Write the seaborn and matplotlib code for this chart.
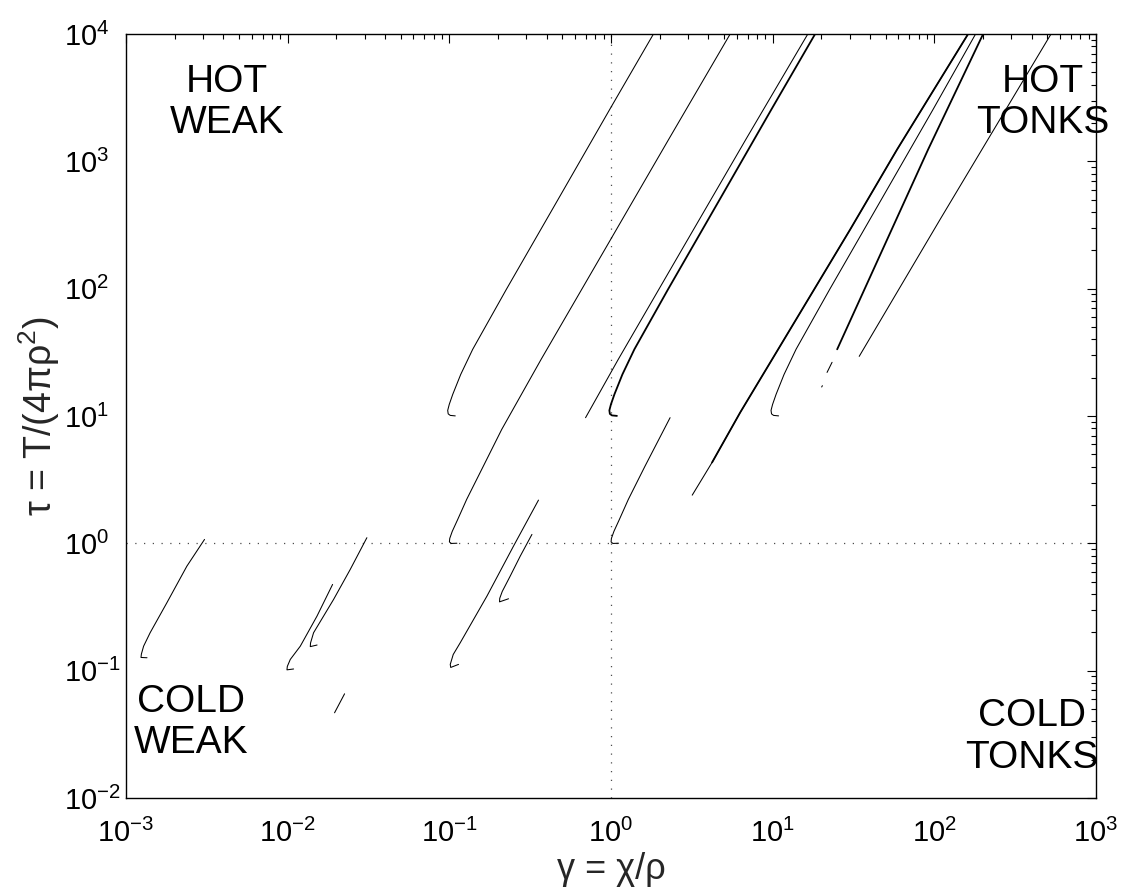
import numpy as np
import pandas as pd
import matplotlib
matplotlib.use("Agg")
import matplotlib.pyplot as plt
from matplotlib.ticker import LogLocator, NullFormatter
import seaborn as sns

# --- branches of the (gamma, tau) solution curves -------------------------
# upper family, turning near tau = 10
hot_a_gamma = [1.831, 0.983, 0.4709, 0.2252, 0.1395, 0.1176, 0.1050, 0.0999, 0.0977, 0.0984, 0.1013, 0.1088]
hot_a_tau = [10000, 2562, 503, 98.7, 33.4, 21.2, 14.8, 12.34, 11.07, 10.39, 10.11, 10.02]

hot_b_gamma = [16.5, 6.83, 2.75, 1.109, 0.696]
hot_b_tau = [10000, 1489, 203.6, 27.85, 9.70]

hot_c_gamma = [18.31, 9.83, 4.709, 2.252, 1.395, 1.176, 1.050, 0.999, 0.977, 0.984, 1.013, 1.088]
hot_c_tau = [10000, 2562, 503, 98.7, 33.4, 21.2, 14.8, 12.34, 11.07, 10.39, 10.11, 10.02]

hot_d_gamma = [180.0, 98.3, 47.09, 22.52, 13.95, 11.76, 10.50, 9.99, 9.77, 9.84, 10.13, 10.88]
hot_d_tau = [10000, 2562, 503, 98.7, 33.4, 21.2, 14.8, 12.34, 11.07, 10.39, 10.11, 10.02]

# family turning near tau = 1
mid_a_gamma = [5.46, 2.275, 0.917, 0.3696, 0.2109, 0.1620, 0.1280, 0.1127, 0.1042, 0.1006, 0.1001, 0.1027, 0.1114]
mid_a_tau = [10000, 1489, 203.6, 27.85, 7.847, 4.018, 2.213, 1.541, 1.240, 1.093, 1.026, 0.998, 1.002]

mid_b_gamma = [2.32, 1.620, 1.280, 1.127, 1.042, 1.006, 1.001, 1.027, 1.114]
mid_b_tau = [9.70, 4.018, 2.213, 1.541, 1.240, 1.093, 1.026, 0.998, 1.002]

# strong-coupling branches
tonks_a_gamma = [161.8, 58.9, 30.2, 6.30, 4.22, 3.18]
tonks_a_tau = [10000, 1242, 292.4, 10.67, 4.32, 2.39]
tonks_a2_gamma = [161.8, 58.9, 30.2, 6.30, 4.22]
tonks_a2_tau = [10000, 1242, 292.4, 10.67, 4.32]

tonks_b_gamma = [200.4, 91.6, 25.06]
tonks_b_tau = [10000, 1242, 33.4]
tonks_b_dash_gamma = [23.3, 21.7]
tonks_b_dash_tau = [26.4, 22.0]
tonks_b_dot_gamma = [20.3, 20.1]
tonks_b_dot_tau = [17.3, 16.9]

tonks_c_gamma = [527, 108.6, 34.3]
tonks_c_tau = [10000, 350, 29.4]

# lower family, turning near tau = 0.1
cold_a_gamma = [0.00306, 0.00238, 0.00179, 0.00141, 0.001285, 0.001245, 0.001238, 0.001349]
cold_a_tau = [1.073, 0.662, 0.3415, 0.1985, 0.1557, 0.1350, 0.1270, 0.1263]

cold_b_gamma = [0.01896, 0.01518, 0.01197, 0.01038, 0.00995, 0.0099, 0.01088]
cold_b_tau = [0.4755, 0.268, 0.1557, 0.1225, 0.1080, 0.1015, 0.1031]

cold_c_gamma = [0.0309, 0.02438, 0.01923, 0.01446, 0.01385, 0.0138, 0.0152]
cold_c_tau = [1.107, 0.6237, 0.3625, 0.1985, 0.1650, 0.1545, 0.159]

cold_d_gamma = [0.02249, 0.0195]
cold_d_tau = [0.0658, 0.0467]

cold_e_gamma = [0.356, 0.2494, 0.1708, 0.1168, 0.1057, 0.1013, 0.1020, 0.114]
cold_e_tau = [2.185, 0.951, 0.3847, 0.1657, 0.134, 0.1120, 0.1060, 0.112]

cold_f_gamma = [0.3243, 0.2745, 0.2379, 0.2125, 0.2050, 0.2044, 0.2323]
cold_f_tau = [1.175, 0.793, 0.5526, 0.419, 0.370, 0.3470, 0.367]

thin = 0.75
thick = 1.3
branches = [
    (hot_a_gamma, hot_a_tau, thin),
    (hot_b_gamma, hot_b_tau, thin),
    (hot_c_gamma, hot_c_tau, thick),
    (hot_d_gamma, hot_d_tau, thin),
    (mid_a_gamma, mid_a_tau, thin),
    (mid_b_gamma, mid_b_tau, thin),
    (tonks_a_gamma, tonks_a_tau, thin),
    (tonks_a2_gamma, tonks_a2_tau, thick),
    (tonks_b_gamma, tonks_b_tau, thick),
    (tonks_b_dash_gamma, tonks_b_dash_tau, thin),
    (tonks_b_dot_gamma, tonks_b_dot_tau, thin),
    (tonks_c_gamma, tonks_c_tau, thin),
    (cold_a_gamma, cold_a_tau, thin),
    (cold_b_gamma, cold_b_tau, thin),
    (cold_c_gamma, cold_c_tau, thin),
    (cold_d_gamma, cold_d_tau, thin),
    (cold_e_gamma, cold_e_tau, thin),
    (cold_f_gamma, cold_f_tau, thin),
]

region_labels = ["HOT\nWEAK", "HOT\nTONKS", "COLD\nWEAK", "COLD\nTONKS"]
region_gamma = [0.00423, 471, 0.002535, 402.7]
region_tau = [2900, 2900, 0.0392, 0.0300]

gamma_ticks = [1e-3, 1e-2, 1e-1, 1e0, 1e1, 1e2, 1e3]
tau_ticks = [1e-2, 1e-1, 1e0, 1e1, 1e2, 1e3, 1e4]

sns.set_style("white")
plt.rcParams["font.family"] = ["Liberation Sans", "DejaVu Sans"]
plt.rcParams["mathtext.fontset"] = "custom"
plt.rcParams["mathtext.rm"] = "Liberation Sans"
plt.rcParams["mathtext.it"] = "Liberation Sans:italic"
plt.rcParams["mathtext.bf"] = "Liberation Sans:bold"

fig = plt.figure(figsize=(11.21, 8.94), dpi=100)
ax = fig.add_axes([126 / 1121, 1 - 798 / 894, 970 / 1121, 764 / 894])
ax.set(xscale="log", yscale="log")

for g, t, w in branches:
    sns.lineplot(x=g, y=t, sort=False, estimator=None, color="k", lw=w, ax=ax)

# reference lines at gamma = 1 and tau = 1
ax.axhline(1, color="0.3", lw=0.9, ls=(0, (1, 6)), zorder=0)
ax.axvline(1, color="0.3", lw=0.9, ls=(0, (1, 6)), zorder=0)

ax.set_xticks(gamma_ticks)
ax.set_yticks(tau_ticks)
for axis in (ax.xaxis, ax.yaxis):
    axis.set_minor_locator(LogLocator(base=10, subs=np.arange(2, 10), numticks=20))
    axis.set_minor_formatter(NullFormatter())
ax.set_xlim(1e-3, 1e3)
ax.set_ylim(1e-2, 1e4)

ax.tick_params(which="both", direction="in", top=True, right=True,
               width=0.8, colors="k", labelsize=21)
ax.tick_params(which="major", length=6.5)
ax.tick_params(which="minor", length=3.6)
ax.tick_params(axis="x", pad=15)
ax.tick_params(axis="y", pad=45)
for s in ax.spines.values():
    s.set_linewidth(1.0)
    s.set_color("k")

ax.set_xlabel("γ = χ/ρ", fontsize=26, labelpad=3)
ax.set_ylabel("τ = T/(4πρ$^2$)", fontsize=27, labelpad=1)

for lab, g, t in zip(region_labels, region_gamma, region_tau):
    ax.text(g, t, lab, fontsize=28, ha="center", va="center",
            multialignment="center", linespacing=1.2, color="k")

fig.canvas.draw()
plt.setp(ax.get_yticklabels(), ha="left")
fig.savefig("out.png", dpi=100, facecolor="white")
